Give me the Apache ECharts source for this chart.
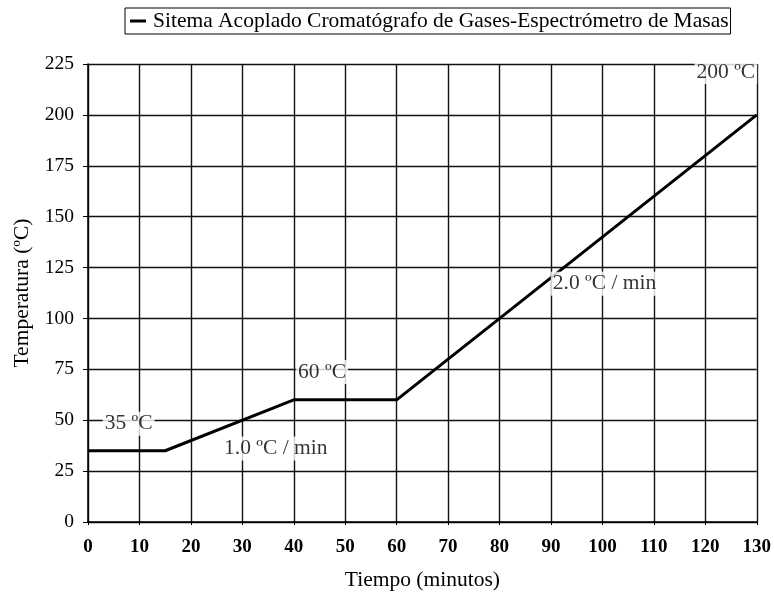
<!DOCTYPE html>
<html>
<head>
<meta charset="utf-8">
<script src="https://cdn.jsdelivr.net/npm/echarts@6/dist/echarts.min.js"></script>
<style>html,body{margin:0;padding:0;background:#fff}#c{width:774px;height:596px}</style>
</head>
<body>
<div id="c"></div>
<script>
const seriesName = 'Sitema Acoplado Cromatógrafo de Gases-Espectrómetro de Masas';
const timeValues = [0, 15, 40, 60, 130];
const tempValues = [35, 35, 60, 60, 200];
const annotationTexts = ['35 ºC', '1.0 ºC / min', '60 ºC', '2.0 ºC / min', '200 ºC'];
const annotationX = [7.9, 36.5, 45.5, 100.4, 124.0];
const annotationY = [48.3, 36.1, 73.7, 117.1, 221.1];

const font = 'Liberation Serif, Times New Roman, serif';
const chart = echarts.init(document.getElementById('c'));
chart.setOption({
  animation: false,
  backgroundColor: '#fff',
  textStyle: { fontFamily: font, color: '#000' },
  legend: {
    data: [seriesName],
    left: 125, top: 8,
    icon: 'rect', itemWidth: 16, itemHeight: 3, itemGap: 4,
    borderColor: '#000', borderWidth: 1, padding: [2, 2, 2, 5],
    textStyle: { fontFamily: font, fontSize: 21.5, color: '#000', padding: [0, 0, 0, 2] }
  },
  grid: { left: 88, right: 15, top: 64, bottom: 71 },
  xAxis: {
    type: 'value', min: 0, max: 130, interval: 10,
    name: 'Tiempo (minutos)', nameLocation: 'middle', nameGap: 47,
    nameTextStyle: { fontFamily: font, fontSize: 21.5, color: '#000' },
    axisLine: { lineStyle: { color: '#000', width: 1.5 } },
    axisTick: { show: true, length: 3, lineStyle: { color: '#000' } },
    axisLabel: { fontFamily: font, fontSize: 19, fontWeight: 'bold', color: '#000', margin: 16 },
    splitLine: { show: true, lineStyle: { color: '#111', width: 1.4 } }
  },
  yAxis: {
    type: 'value', min: 0, max: 225, interval: 25,
    name: 'Temperatura (ºC)', nameLocation: 'middle', nameGap: 55,
    nameTextStyle: { fontFamily: font, fontSize: 21.5, color: '#000' },
    axisLine: { show: true, lineStyle: { color: '#000', width: 1.5 } },
    axisTick: { show: true, length: 5, lineStyle: { color: '#000' } },
    axisLabel: { fontFamily: font, fontSize: 19.5, color: '#000', margin: 14 },
    splitLine: { show: true, lineStyle: { color: '#111', width: 1.4 } }
  },
  series: [
    {
      name: seriesName, type: 'line',
      data: timeValues.map((t, i) => [t, tempValues[i]]),
      showSymbol: false, symbol: 'none',
      lineStyle: { color: '#000', width: 3 },
      itemStyle: { color: '#000' }
    },
    {
      name: 'labels', type: 'scatter', symbolSize: 0, z: 5,
      data: annotationTexts.map((s, i) => ({ name: s, value: [annotationX[i], annotationY[i]] })),
      label: {
        show: true, position: 'inside', formatter: p => p.name,
        fontFamily: font, fontSize: 21.5, color: '#000',
        backgroundColor: '#fff', padding: [1, 2]
      }
    }
  ]
});
</script>
</body>
</html>
